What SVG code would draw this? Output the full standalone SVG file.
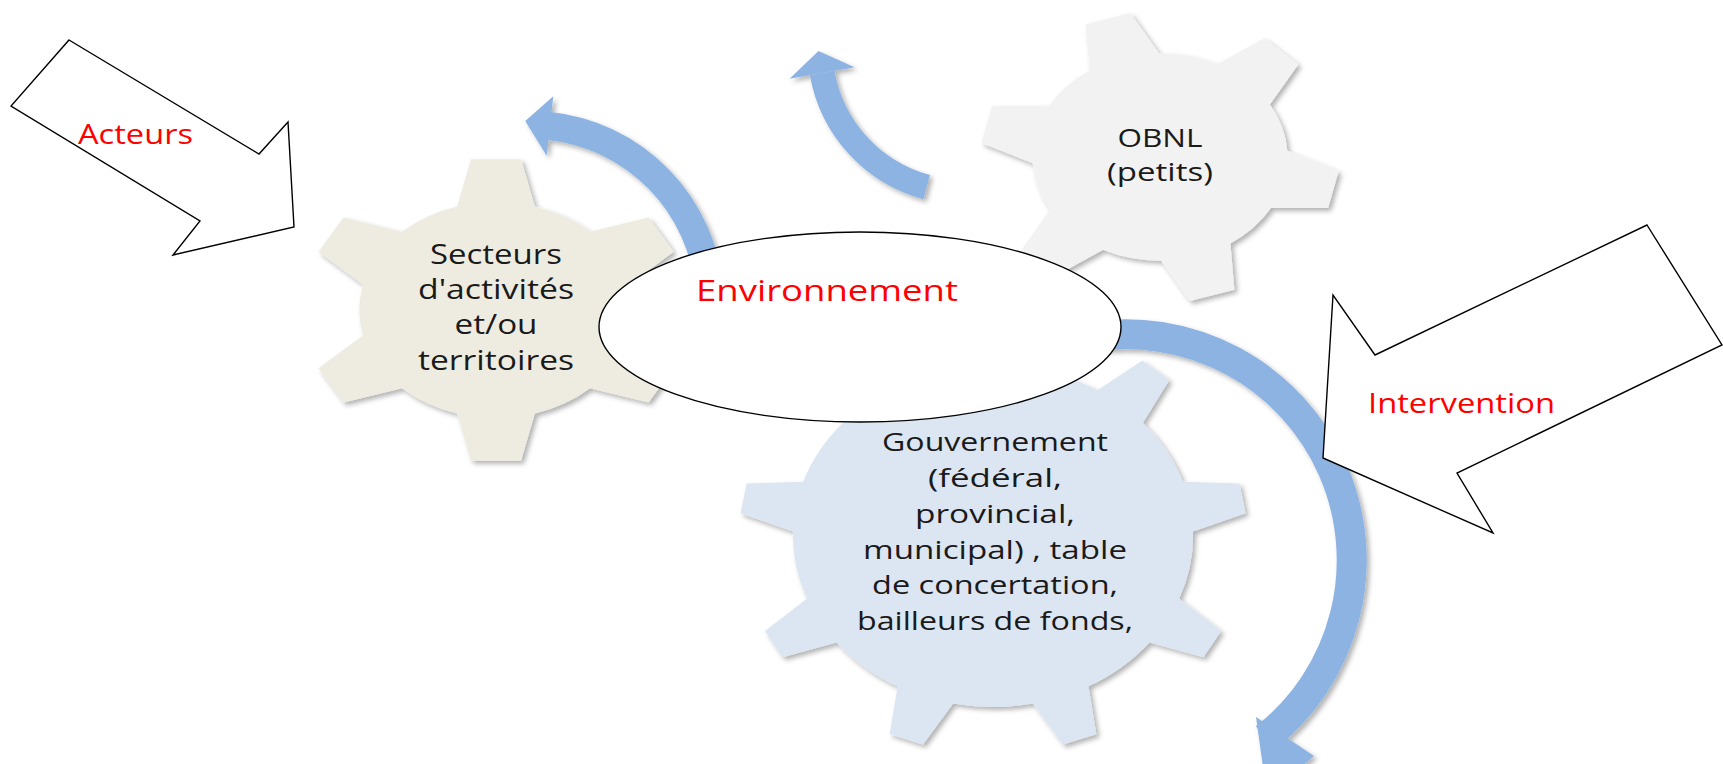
<svg xmlns="http://www.w3.org/2000/svg" width="1723" height="764" viewBox="0 0 1723 764">
<defs>
<style>
.lbl { font-family: 'Open Sans', 'Liberation Sans', sans-serif; fill: #1a1a1a; text-anchor: middle; }
.red { font-family: 'Open Sans', 'Liberation Sans', sans-serif; fill: #ff0000; }
.outline { fill: #ffffff; stroke: #000000; stroke-width: 1.4; stroke-linejoin: miter; }
.shaft { fill: none; stroke: #8db3e2; stroke-linecap: butt; }
.head { fill: #8db3e2; }
</style>
<filter id="sh" x="-20%" y="-20%" width="140%" height="140%">
<feDropShadow dx="3" dy="3" stdDeviation="2.5" flood-color="#000000" flood-opacity="0.3"/>
</filter>
<path id="gear6" d="M -30.7 -103.5 L -19.8 -150.7 L 19.8 -150.7 L 30.7 -103.5 A 108 108 0 0 1 74.3 -78.3 L 120.6 -92.5 L 140.4 -58.2 L 105 -25.2 A 108 108 0 0 1 105 25.2 L 140.4 58.2 L 120.6 92.5 L 74.3 78.3 A 108 108 0 0 1 30.7 103.5 L 19.8 150.7 L -19.8 150.7 L -30.7 103.5 A 108 108 0 0 1 -74.3 78.3 L -120.6 92.5 L -140.4 58.2 L -105 25.2 A 108 108 0 0 1 -105 -25.2 L -140.4 -58.2 L -120.6 -92.5 L -74.3 -78.3 A 108 108 0 0 1 -30.7 -103.5 Z"/>
<path id="gear9" d="M -25.3 -169.1 L -15.1 -216.5 L 15.1 -216.5 L 25.3 -169.1 A 171 171 0 0 1 89.3 -145.8 L 127.6 -175.6 L 150.7 -156.1 L 128.1 -113.3 A 171 171 0 0 1 162.2 -54.3 L 210.6 -52.5 L 215.8 -22.7 L 170.9 -4.5 A 171 171 0 0 1 159.1 62.7 L 195.0 95.1 L 179.9 121.3 L 133.8 106.4 A 171 171 0 0 1 81.6 150.3 L 88.3 198.2 L 59.8 208.6 L 34.1 167.6 A 171 171 0 0 1 -34.1 167.6 L -59.8 208.6 L -88.3 198.2 L -81.6 150.3 A 171 171 0 0 1 -133.8 106.4 L -179.9 121.3 L -195.0 95.1 L -159.1 62.7 A 171 171 0 0 1 -170.9 -4.5 L -215.8 -22.7 L -210.6 -52.5 L -162.2 -54.3 A 171 171 0 0 1 -128.1 -113.3 L -150.7 -156.1 L -127.6 -175.6 L -89.3 -145.8 A 171 171 0 0 1 -25.3 -169.1 Z"/>
</defs>
<rect width="1723" height="764" fill="#ffffff"/>

<g id="node-acteurs">
<polygon class="outline" points="69,40 259,154 288,122 294,227 173,255 200,221 11,106"/>
<text class="red" x="78" y="144" font-size="27" textLength="115" lengthAdjust="spacingAndGlyphs">Acteurs</text>
</g>

<g id="node-secteurs" filter="url(#sh)">
<use href="#gear6" transform="translate(496,310) scale(1.265,1)" fill="#eeece1"/>
</g>

<g id="node-obnl" filter="url(#sh)">
<use href="#gear6" transform="translate(1160,157) scale(1.23,1) rotate(-17) scale(0.96)" fill="#f2f2f2"/>
</g>

<g id="node-gouvernement" filter="url(#sh)">
<use href="#gear9" transform="translate(993,536) scale(1.17,1)" fill="#dce6f2"/>
</g>

<g id="connectors">
<g id="arrow-secteurs" filter="url(#sh)">
<path class="shaft" stroke-width="28" d="M 709.3 289.3 A 180 180 0 0 0 549.5 126"/>
<polygon class="head" points="553.3,96.2 525.2,121 546.7,155.8"/>
</g>
<g id="arrow-obnl" filter="url(#sh)">
<path class="shaft" stroke-width="25" d="M 926.7 187.1 A 144 144 0 0 1 822.2 73"/>
<polygon class="head" points="789.5,78.7 818.5,51 854.5,67.3"/>
</g>
<g id="arrow-gouvernement" filter="url(#sh)">
<path class="shaft" stroke-width="30" d="M 1087.8 337.4 A 226 226 0 0 1 1265.1 738.1"/>
<polygon class="head" points="1256,717 1267,796 1314,756"/>
</g>
</g>

<g id="node-environnement">
<ellipse class="outline" cx="860" cy="327" rx="261" ry="95"/>
<text class="red" x="696" y="301" font-size="29" textLength="262" lengthAdjust="spacingAndGlyphs">Environnement</text>
</g>

<g id="node-intervention">
<polygon class="outline" points="1647,225 1722,345 1457,473 1493,533 1323,458 1333,295 1375,355"/>
<text class="red" x="1368" y="413" font-size="27" textLength="187" lengthAdjust="spacingAndGlyphs">Intervention</text>
</g>

<g id="labels-secteurs">
<text class="lbl" x="496" y="264" font-size="27" textLength="132" lengthAdjust="spacingAndGlyphs">Secteurs</text>
<text class="lbl" x="496" y="299" font-size="27" textLength="156" lengthAdjust="spacingAndGlyphs">d'activités</text>
<text class="lbl" x="496" y="334" font-size="27" textLength="83" lengthAdjust="spacingAndGlyphs">et/ou</text>
<text class="lbl" x="496" y="370" font-size="27" textLength="156" lengthAdjust="spacingAndGlyphs">territoires</text>
</g>

<g id="labels-obnl">
<text class="lbl" x="1160" y="147" font-size="26" textLength="85" lengthAdjust="spacingAndGlyphs">OBNL</text>
<text class="lbl" x="1160" y="181" font-size="26" textLength="106" lengthAdjust="spacingAndGlyphs">(petits)</text>
</g>

<g id="labels-gouvernement">
<text class="lbl" x="995" y="451" font-size="25" textLength="226" lengthAdjust="spacingAndGlyphs">Gouvernement</text>
<text class="lbl" x="995" y="487" font-size="25" textLength="134" lengthAdjust="spacingAndGlyphs">(fédéral,</text>
<text class="lbl" x="995" y="523" font-size="25" textLength="160" lengthAdjust="spacingAndGlyphs">provincial,</text>
<text class="lbl" x="995" y="559" font-size="25" textLength="264" lengthAdjust="spacingAndGlyphs">municipal) , table</text>
<text class="lbl" x="995" y="594" font-size="25" textLength="246" lengthAdjust="spacingAndGlyphs">de concertation,</text>
<text class="lbl" x="995" y="630" font-size="25" textLength="276" lengthAdjust="spacingAndGlyphs">bailleurs de fonds,</text>
</g>
</svg>
